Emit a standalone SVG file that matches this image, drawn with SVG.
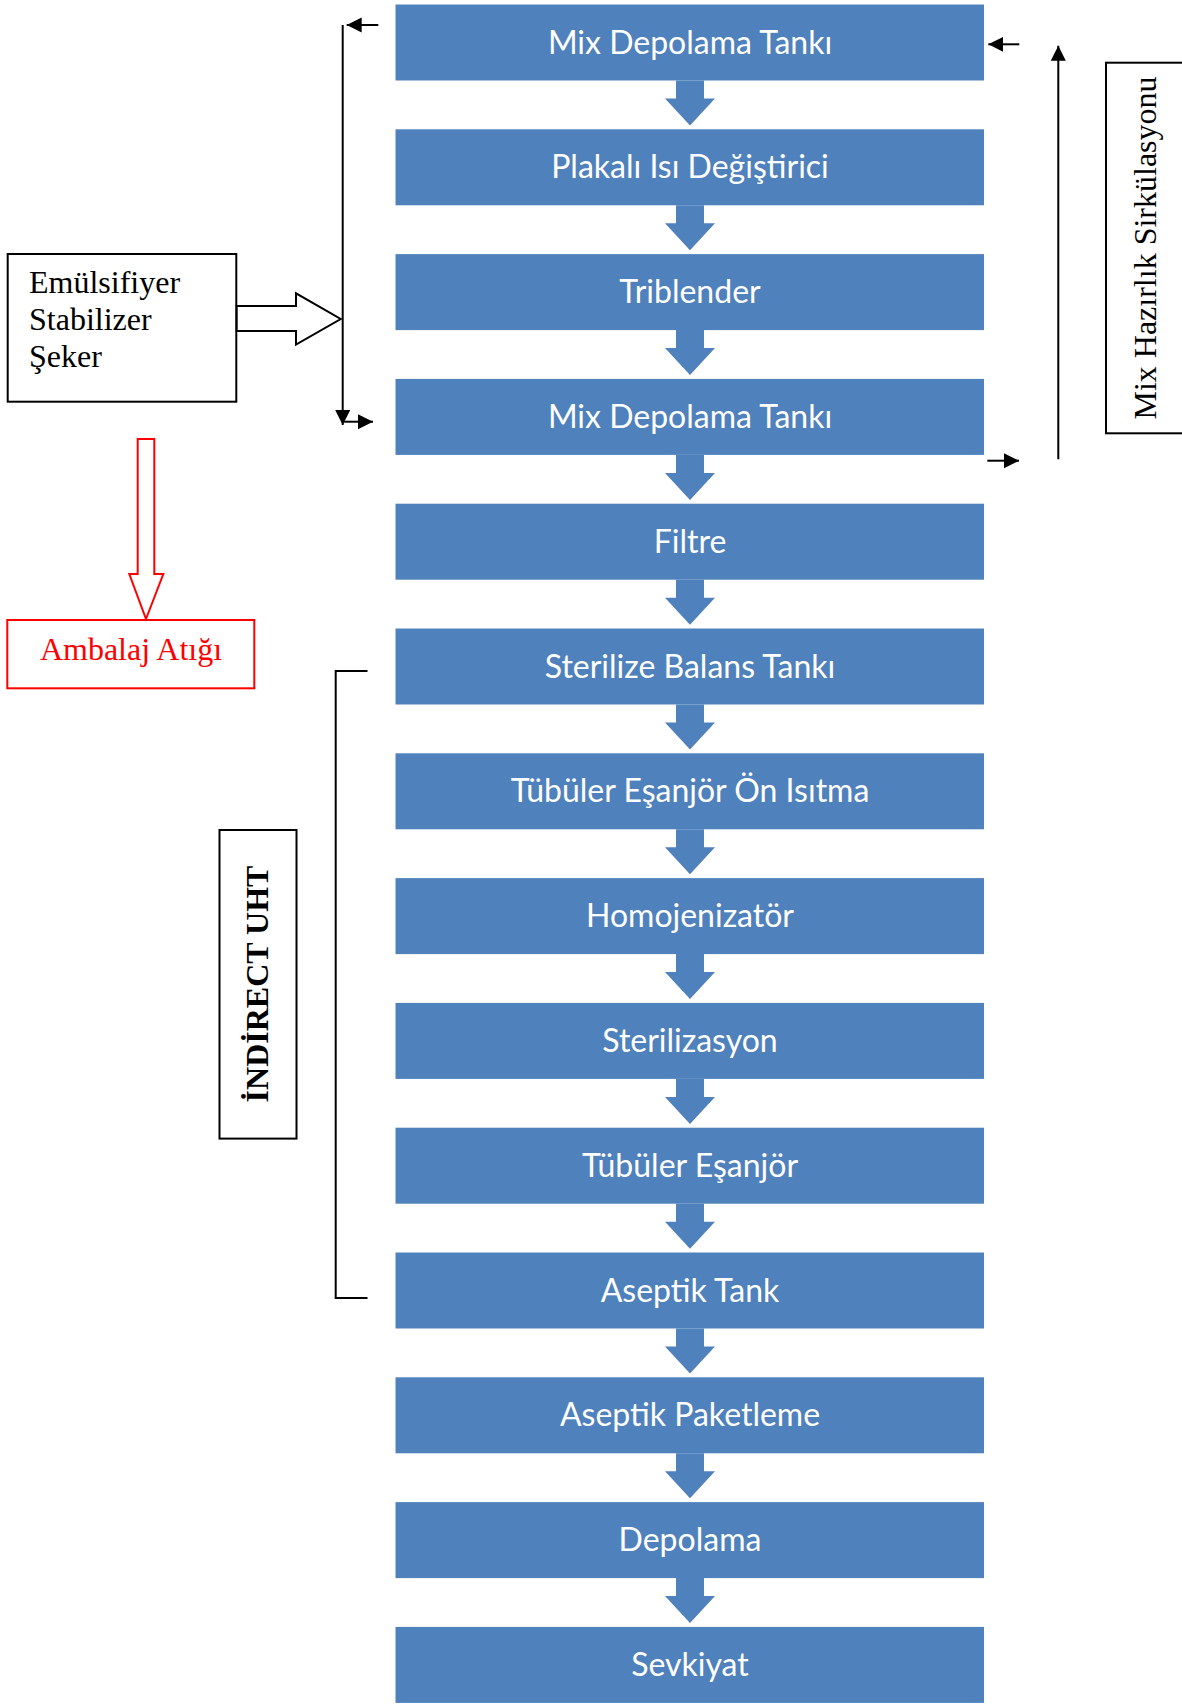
<svg xmlns="http://www.w3.org/2000/svg" width="1182" height="1704" viewBox="0 0 1182 1704">
  <defs>
    <style>
      .step { fill: #4F81BD; }
      .step-label { font-family: Lato, "Open Sans", sans-serif; font-size: 32px; fill: #FFFFFF; text-anchor: middle; }
      .flow { fill: #4F81BD; }
      .line { stroke: #000000; stroke-width: 2; fill: none; }
      .serif { font-family: "Liberation Serif", "Times New Roman", serif; font-size: 32px; }
      .frame { fill: #FFFFFF; stroke: #000000; stroke-width: 2; }
    </style>
    <marker id="head" markerUnits="userSpaceOnUse" markerWidth="16" markerHeight="16" refX="15" refY="7.5" orient="auto">
      <path d="M0,0 L15,7.5 L0,15 Z" fill="#000000"/>
    </marker>
    <!-- down arrow between two consecutive steps -->
    <path id="step-arrow" d="M676,0 H704 V18 H715 L690,45 L665,18 H676 Z"/>
  </defs>

  <!-- main process column -->
  <g id="step-01"><rect class="step" x="395.5" y="4.5" width="588.5" height="76"/><text class="step-label" x="690" y="53.5">Mix Depolama Tankı</text></g>
  <g id="step-02"><rect class="step" x="395.5" y="129.3" width="588.5" height="76"/><text class="step-label" x="690" y="178.3">Plakalı Isı Değiştirici</text></g>
  <g id="step-03"><rect class="step" x="395.5" y="254.1" width="588.5" height="76"/><text class="step-label" x="690" y="303.1">Triblender</text></g>
  <g id="step-04"><rect class="step" x="395.5" y="378.9" width="588.5" height="76"/><text class="step-label" x="690" y="427.9">Mix Depolama Tankı</text></g>
  <g id="step-05"><rect class="step" x="395.5" y="503.7" width="588.5" height="76"/><text class="step-label" x="690" y="552.7">Filtre</text></g>
  <g id="step-06"><rect class="step" x="395.5" y="628.5" width="588.5" height="76"/><text class="step-label" x="690" y="677.5">Sterilize Balans Tankı</text></g>
  <g id="step-07"><rect class="step" x="395.5" y="753.3" width="588.5" height="76"/><text class="step-label" x="690" y="802.3">Tübüler Eşanjör Ön Isıtma</text></g>
  <g id="step-08"><rect class="step" x="395.5" y="878.1" width="588.5" height="76"/><text class="step-label" x="690" y="927.1">Homojenizatör</text></g>
  <g id="step-09"><rect class="step" x="395.5" y="1002.9" width="588.5" height="76"/><text class="step-label" x="690" y="1051.9">Sterilizasyon</text></g>
  <g id="step-10"><rect class="step" x="395.5" y="1127.7" width="588.5" height="76"/><text class="step-label" x="690" y="1176.7">Tübüler Eşanjör</text></g>
  <g id="step-11"><rect class="step" x="395.5" y="1252.5" width="588.5" height="76"/><text class="step-label" x="690" y="1301.5">Aseptik Tank</text></g>
  <g id="step-12"><rect class="step" x="395.5" y="1377.3" width="588.5" height="76"/><text class="step-label" x="690" y="1426.3">Aseptik Paketleme</text></g>
  <g id="step-13"><rect class="step" x="395.5" y="1502.1" width="588.5" height="76"/><text class="step-label" x="690" y="1551.1">Depolama</text></g>
  <g id="step-14"><rect class="step" x="395.5" y="1626.9" width="588.5" height="76"/><text class="step-label" x="690" y="1675.9">Sevkiyat</text></g>

  <!-- side notes -->
  <g id="ingredients">
    <rect class="frame" x="7.7" y="254" width="228.6" height="147.7"/>
    <text class="serif" x="29" y="293">Emülsifiyer</text>
    <text class="serif" x="29" y="330">Stabilizer</text>
    <text class="serif" x="29" y="367">Şeker</text>
  </g>
  <g id="packaging-waste">
    <rect x="7.3" y="620" width="247" height="68.3" fill="#FFFFFF" stroke="#FF0000" stroke-width="2"/>
    <text class="serif" x="131" y="659.5" fill="#FF0000" text-anchor="middle">Ambalaj Atığı</text>
  </g>
  <g id="indirect-uht">
    <rect class="frame" x="219.5" y="830" width="77" height="308.6"/>
    <text class="serif" transform="translate(268 984) rotate(-90)" text-anchor="middle" font-weight="bold">İNDİRECT UHT</text>
  </g>
  <g id="mix-circulation">
    <rect class="frame" x="1106" y="62.7" width="90" height="370.6"/>
    <text class="serif" transform="translate(1156 248) rotate(-90)" text-anchor="middle">Mix Hazırlık Sirkülasyonu</text>
  </g>

  <!-- connectors -->
  <g id="connectors">
    <use href="#step-arrow" class="flow" y="80.5"/>
    <use href="#step-arrow" class="flow" y="205.3"/>
    <use href="#step-arrow" class="flow" y="330.1"/>
    <use href="#step-arrow" class="flow" y="454.9"/>
    <use href="#step-arrow" class="flow" y="579.7"/>
    <use href="#step-arrow" class="flow" y="704.5"/>
    <use href="#step-arrow" class="flow" y="829.3"/>
    <use href="#step-arrow" class="flow" y="954.1"/>
    <use href="#step-arrow" class="flow" y="1078.9"/>
    <use href="#step-arrow" class="flow" y="1203.7"/>
    <use href="#step-arrow" class="flow" y="1328.5"/>
    <use href="#step-arrow" class="flow" y="1453.3"/>
    <use href="#step-arrow" class="flow" y="1578.1"/>

    <!-- loop from the first tank back down to the second tank -->
    <line class="line" x1="378.3" y1="25" x2="346.7" y2="25" marker-end="url(#head)"/>
    <line class="line" x1="342.7" y1="25" x2="342.7" y2="425" marker-end="url(#head)"/>
    <line class="line" x1="343" y1="421.7" x2="373" y2="421.7" marker-end="url(#head)"/>

    <!-- ingredient feed (hollow block arrow) -->
    <polygon points="236.7,306 296,306 296,293.3 340.7,319 296,344.5 296,331 236.7,331" fill="#FFFFFF" stroke="#000000" stroke-width="2" stroke-linejoin="miter"/>

    <!-- waste output (hollow red block arrow) -->
    <polygon points="137.7,439 154.3,439 154.3,574 163.3,574 146,619 129.3,574 137.7,574" fill="#FFFFFF" stroke="#FF0000" stroke-width="2"/>

    <!-- UHT section bracket -->
    <path class="line" d="M367.5,671 H335.7 V1298 H367.5"/>

    <!-- circulation loop on the right -->
    <line class="line" x1="1019.3" y1="44.3" x2="988.3" y2="44.3" marker-end="url(#head)"/>
    <line class="line" x1="987.3" y1="460.7" x2="1019" y2="460.7" marker-end="url(#head)"/>
    <line class="line" x1="1058.3" y1="459.3" x2="1058.3" y2="45.7" marker-end="url(#head)"/>
  </g>
</svg>
